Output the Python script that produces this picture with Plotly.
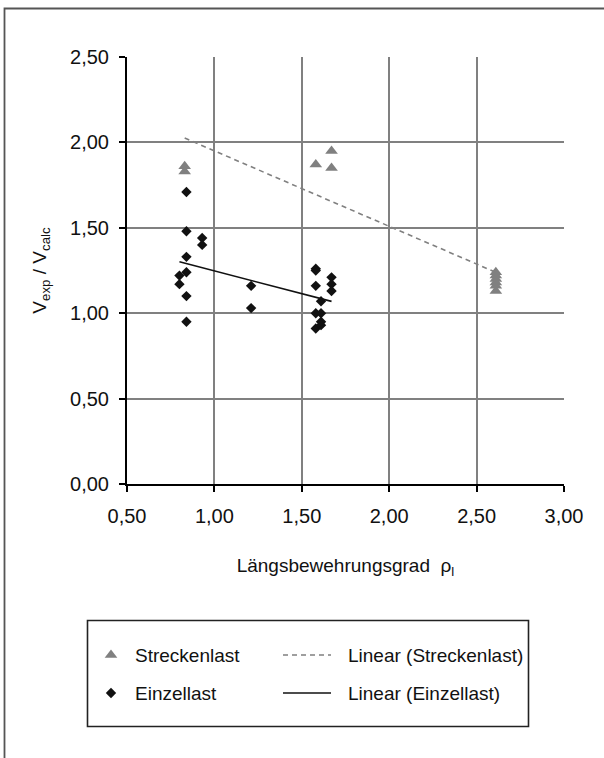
import numpy as np
import plotly.graph_objects as go

W, H = 604, 758
FONT = "Liberation Sans, Arial, sans-serif"

# Streckenlast (distributed load) test results
rho_strecken = [0.83, 0.83, 1.58, 1.67, 1.67, 2.61, 2.61, 2.61, 2.61, 2.61, 2.61]
v_strecken = [1.86, 1.83, 1.87, 1.95, 1.85, 1.24, 1.22, 1.20, 1.18, 1.16, 1.13]

# Einzellast (point load) test results
rho_einzel = [0.84, 0.84, 0.84, 0.84, 0.84, 0.84, 0.80, 0.80, 0.93, 0.93, 1.21, 1.21,
              1.58, 1.58, 1.58, 1.58, 1.58, 1.61, 1.61, 1.61, 1.61, 1.67, 1.67, 1.67]
v_einzel = [1.71, 1.48, 1.33, 1.24, 1.10, 0.95, 1.22, 1.17, 1.44, 1.40, 1.16, 1.03,
            1.26, 1.25, 1.16, 1.00, 0.91, 1.07, 1.00, 0.95, 0.93, 1.21, 1.17, 1.13]

x_ticks = [0.5, 1.0, 1.5, 2.0, 2.5, 3.0]
y_ticks = [0.0, 0.5, 1.0, 1.5, 2.0, 2.5]

GRAY = "#808080"
INK = "#111111"


def linear_trend(x, y):
    k, d = np.polyfit(x, y, 1)
    xs = np.array([min(x), max(x)])
    return xs, k * xs + d


fig = go.Figure()

fig.add_trace(go.Scatter(
    x=rho_strecken, y=v_strecken, mode="markers", name="Streckenlast",
    marker=dict(symbol="triangle-up", size=11, color=GRAY, line=dict(width=0)),
))
fig.add_trace(go.Scatter(
    x=rho_einzel, y=v_einzel, mode="markers", name="Einzellast",
    marker=dict(symbol="diamond", size=8, color=INK, line=dict(width=0)),
))

tx, ty = linear_trend(rho_strecken, v_strecken)
fig.add_trace(go.Scatter(x=tx, y=ty, mode="lines", name="Linear (Streckenlast)",
                         line=dict(color=GRAY, width=1.6, dash="5px,4px")))
tx, ty = linear_trend(rho_einzel, v_einzel)
fig.add_trace(go.Scatter(x=tx, y=ty, mode="lines", name="Linear (Einzellast)",
                         line=dict(color=INK, width=1.6)))

# ---- legend, drawn on a full-page helper axis measured in pixels ----
LX_SYM, LX_TXT, LX_L0, LX_L1, LX_TXT2 = 111, 133, 283, 331, 346
ROW1, ROW2 = 655, 693
LEG_FONT = 19

fig.add_trace(go.Scatter(x=[LX_SYM], y=[ROW1], xaxis="x2", yaxis="y2", mode="markers",
                         marker=dict(symbol="triangle-up", size=11, color=GRAY),
                         hoverinfo="skip"))
fig.add_trace(go.Scatter(x=[LX_SYM], y=[ROW2], xaxis="x2", yaxis="y2", mode="markers",
                         marker=dict(symbol="diamond", size=8, color=INK),
                         hoverinfo="skip"))
fig.add_trace(go.Scatter(x=[LX_L0, LX_L1], y=[ROW1, ROW1], xaxis="x2", yaxis="y2",
                         mode="lines", line=dict(color=GRAY, width=1.6, dash="5px,4px"),
                         hoverinfo="skip"))
fig.add_trace(go.Scatter(x=[LX_L0, LX_L1], y=[ROW2, ROW2], xaxis="x2", yaxis="y2",
                         mode="lines", line=dict(color=INK, width=1.6),
                         hoverinfo="skip"))

legend_texts = [
    (LX_TXT, ROW1, "Streckenlast"),
    (LX_TXT2, ROW1, "Linear (Streckenlast)"),
    (LX_TXT, ROW2, "Einzellast"),
    (LX_TXT2, ROW2, "Linear (Einzellast)"),
]
annotations = [
    dict(x=x, y=y, xref="x2", yref="y2", text=t, showarrow=False,
         xanchor="left", yanchor="middle",
         font=dict(family=FONT, size=LEG_FONT, color=INK))
    for x, y, t in legend_texts
]

shapes = [
    # outer frame
    dict(type="rect", xref="x2", yref="y2", x0=4.5, y0=8.5, x1=W + 10, y1=H + 10,
         line=dict(color="#555555", width=1.8), layer="below"),
    # legend box
    dict(type="rect", xref="x2", yref="y2", x0=87.5, y0=620.5, x1=528.5, y1=726.5,
         line=dict(color="#222222", width=1.6), layer="below"),
]

PX_L, PX_R, PX_T, PX_B = 127, 564, 57, 484

axis_common = dict(
    showgrid=True, gridcolor=GRAY, gridwidth=2,
    showline=True, linecolor="#000000", linewidth=2,
    ticks="outside", ticklen=6, tickwidth=2, tickcolor="#000000",
    zeroline=False, tickformat=".2f", automargin=False,
    tickfont=dict(family=FONT, size=20, color=INK),
)

fig.update_layout(
    template="none",
    width=W, height=H,
    margin=dict(l=0, r=0, t=0, b=0, pad=0, autoexpand=False),
    paper_bgcolor="white", plot_bgcolor="rgba(0,0,0,0)",
    showlegend=False,
    separators=",.",
    font=dict(family=FONT, size=19, color=INK),
    xaxis=dict(
        domain=[PX_L / W, PX_R / W], range=[0.5, 3.0], tickvals=x_ticks,
        anchor="y", ticklabelstandoff=7,
        title=dict(text="Längsbewehrungsgrad\u00a0\u00a0ρ<sub>l</sub>\u00a0\u00a0\u00a0",
                   standoff=33, font=dict(family=FONT, size=19, color=INK)),
        **axis_common,
    ),
    yaxis=dict(
        domain=[1 - PX_B / H, 1 - PX_T / H], range=[0, 2.5], tickvals=y_ticks,
        anchor="x", ticklabelstandoff=6,
        title=dict(text="V<sub>exp</sub> / V<sub>calc</sub>", standoff=18,
                   font=dict(family=FONT, size=19, color=INK)),
        **axis_common,
    ),
    xaxis2=dict(domain=[0, 1], range=[0, W], visible=False, anchor="y2",
                fixedrange=True, automargin=False),
    yaxis2=dict(domain=[0, 1], range=[H, 0], visible=False, anchor="x2",
                fixedrange=True, automargin=False),
    annotations=annotations,
    shapes=shapes,
)

fig.write_html("out.html")
